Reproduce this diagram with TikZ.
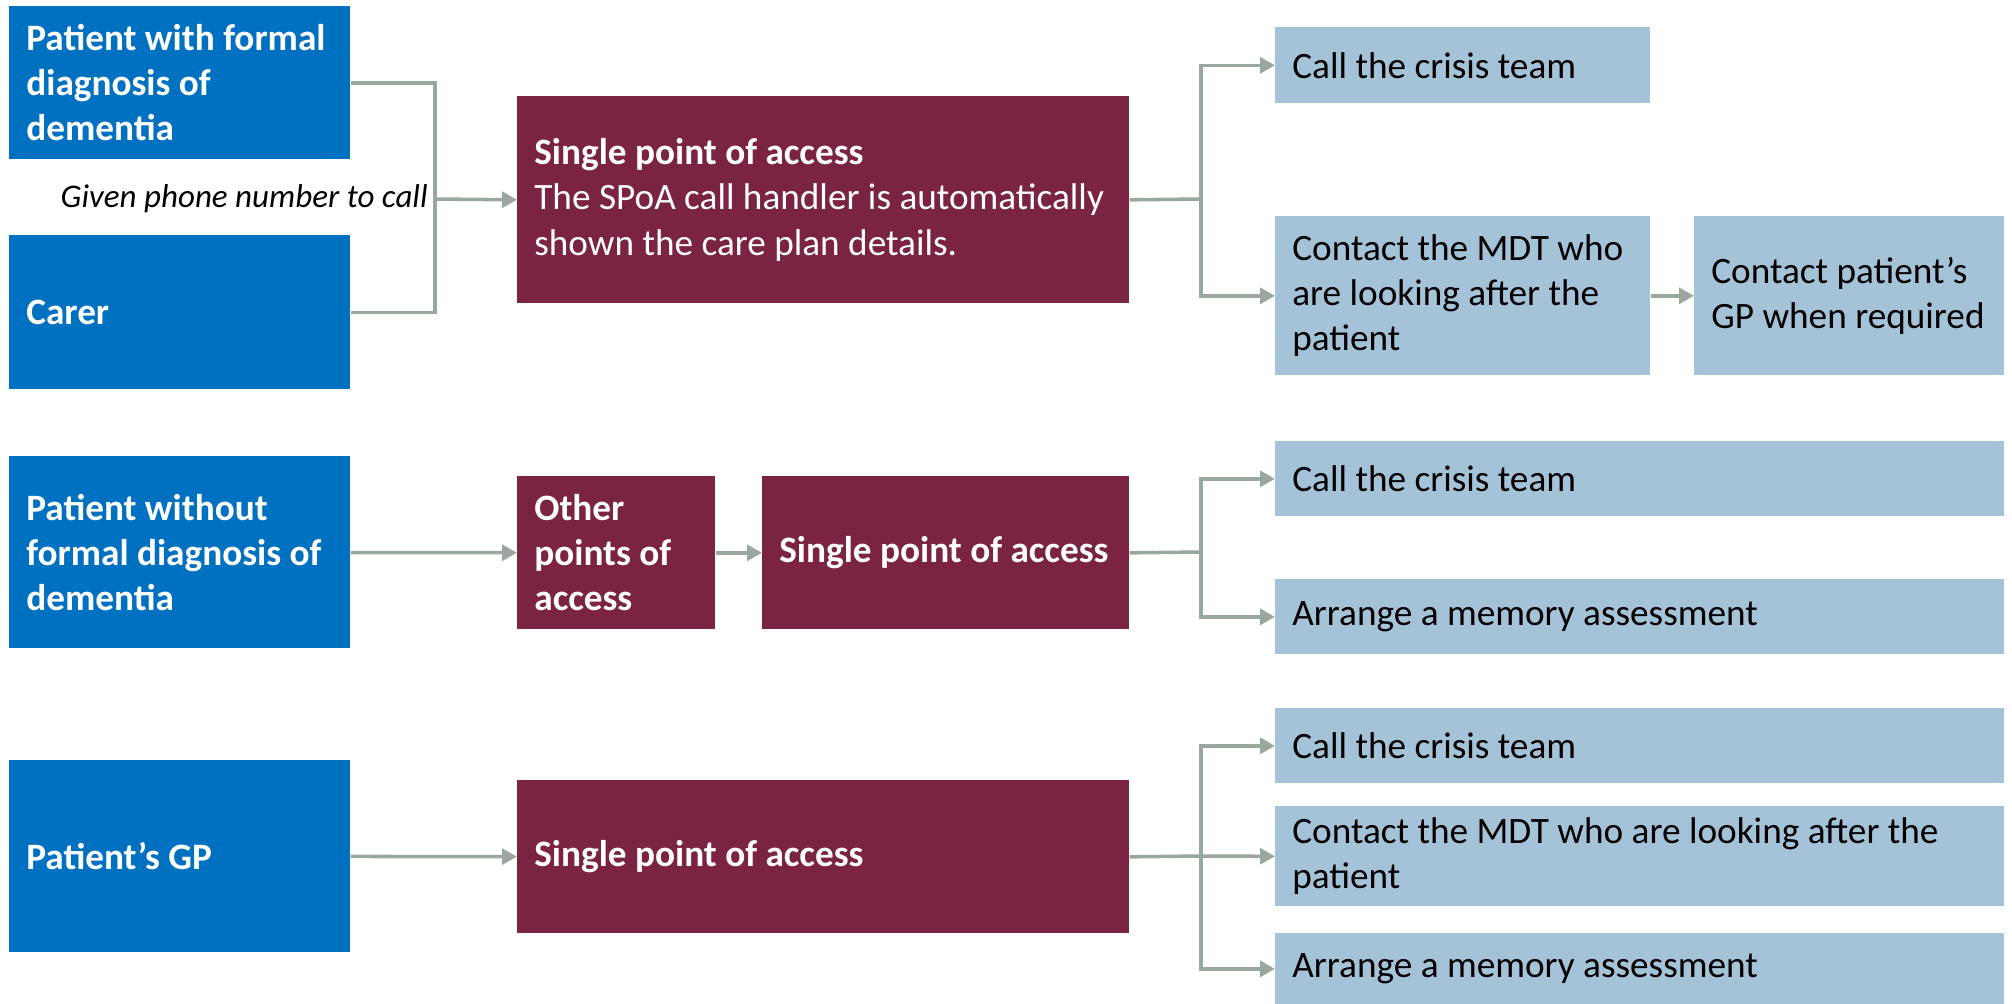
\documentclass[tikz,border=0pt]{standalone}
\usepackage{fontspec}
\setmainfont{Carlito}
\usetikzlibrary{arrows.meta,positioning}
\definecolor{srcblue}{RGB}{0,112,192}
\definecolor{spoared}{RGB}{122,35,66}
\definecolor{actblue}{RGB}{165,195,216}
\definecolor{linkgrey}{RGB}{152,168,156}
\newcommand{\boxfont}{\fontsize{21.2}{25.7}\selectfont}

\begin{document}
\begin{tikzpicture}[x=0.02cm, y=-0.02cm,
    box/.style={rectangle, anchor=north west, inner xsep=0.34cm, inner ysep=0pt,
                align=flush left, font=\boxfont},
    source/.style={box, fill=srcblue, text=white, font=\boxfont\bfseries, text width=6.14cm},
    hub/.style={box, fill=spoared, text=white},
    hubbold/.style={hub, font=\boxfont\bfseries},
    action/.style={box, fill=actblue, text=black},
    link/.style={draw=linkgrey, line width=2pt},
    arr/.style={link, -{Triangle[length=8.5pt, width=9pt]}}]
    \useasboundingbox (0,0) rectangle (2012,1004);

    % Callers (left column)
    \node[source, minimum height=3.06cm] (pwith) at (9,6) {Patient with formal diagnosis of dementia};
    \node[source, minimum height=3.08cm] (carer) at (9,235) {Carer};
    \node[source, minimum height=3.84cm] (pwithout) at (9,456) {Patient without formal diagnosis of dementia};
    \node[source, minimum height=3.84cm] (pgp) at (9,760) {Patient’s GP};

    % Note between the first two callers
    \node[anchor=east, inner sep=0pt, font=\fontsize{18.8}{22}\selectfont\itshape] (phone) at (428,199) {Given phone number to call};

    % Access points
    \node[hub, text width=11.56cm, minimum height=4.14cm] (spoa1) at (517,96)
        {\textbf{Single point of access}\\The SPoA call handler is automatically shown the care plan details.};
    \node[hubbold, text width=3.28cm, minimum height=3.06cm] (other) at (517,476) {Other points of access};
    \node[hubbold, text width=6.66cm, minimum height=3.06cm] (spoa2) at (762,476) {Single point of access};
    \node[hubbold, text width=11.56cm, minimum height=3.06cm] (spoa3) at (517,780) {Single point of access};

    % Actions (right column)
    \node[action, text width=6.82cm, minimum height=1.52cm] (crisis1) at (1275,27) {Call the crisis team};
    \node[action, text width=6.82cm, minimum height=3.18cm] (mdt1) at (1275,216) {Contact the MDT who are looking after the patient};
    \node[action, text width=5.52cm, minimum height=3.18cm] (gp1) at (1694,216) {Contact patient’s GP when required};
    \node[action, text width=13.9cm, minimum height=1.5cm] (crisis2) at (1275,441) {Call the crisis team};
    \node[action, text width=13.9cm, minimum height=1.5cm] (memory2) at (1275,579) {Arrange a memory assessment};
    \node[action, text width=13.9cm, minimum height=1.5cm] (crisis3) at (1275,708) {Call the crisis team};
    \node[action, text width=13.9cm, minimum height=2.0cm] (mdt3) at (1275,806) {Contact the MDT who are looking after the patient};
    \node[action, text width=13.9cm, minimum height=1.42cm] (memory3) at (1275,933) {Arrange a memory assessment};

    % Junction points
    \coordinate (in1) at (435,199);
    \coordinate (out1) at (1201,199);
    \coordinate (out2) at (1201,552);
    \coordinate (out3) at (1201,856);

    % Row 1
    \draw[link] (pwith.east) -| (in1) |- (carer.east);
    \draw[arr] (in1) -- (spoa1.west);
    \draw[link] (spoa1.east) -- (out1);
    \draw[arr] (out1) |- (crisis1.west);
    \draw[arr] (out1) |- (mdt1.west);
    \draw[arr] (mdt1) -- (gp1);

    % Row 2
    \draw[arr] (pwithout) -- (other);
    \draw[arr] (other) -- (spoa2);
    \draw[link] (spoa2.east) -- (out2);
    \draw[arr] (out2) |- (crisis2.west);
    \draw[arr] (out2) |- (memory2.west);

    % Row 3
    \draw[arr] (pgp) -- (spoa3);
    \draw[link] (spoa3.east) -- (out3);
    \draw[arr] (out3) |- (crisis3.west);
    \draw[arr] (out3) -- (mdt3.west);
    \draw[arr] (out3) |- (memory3.west);
\end{tikzpicture}
\end{document}
